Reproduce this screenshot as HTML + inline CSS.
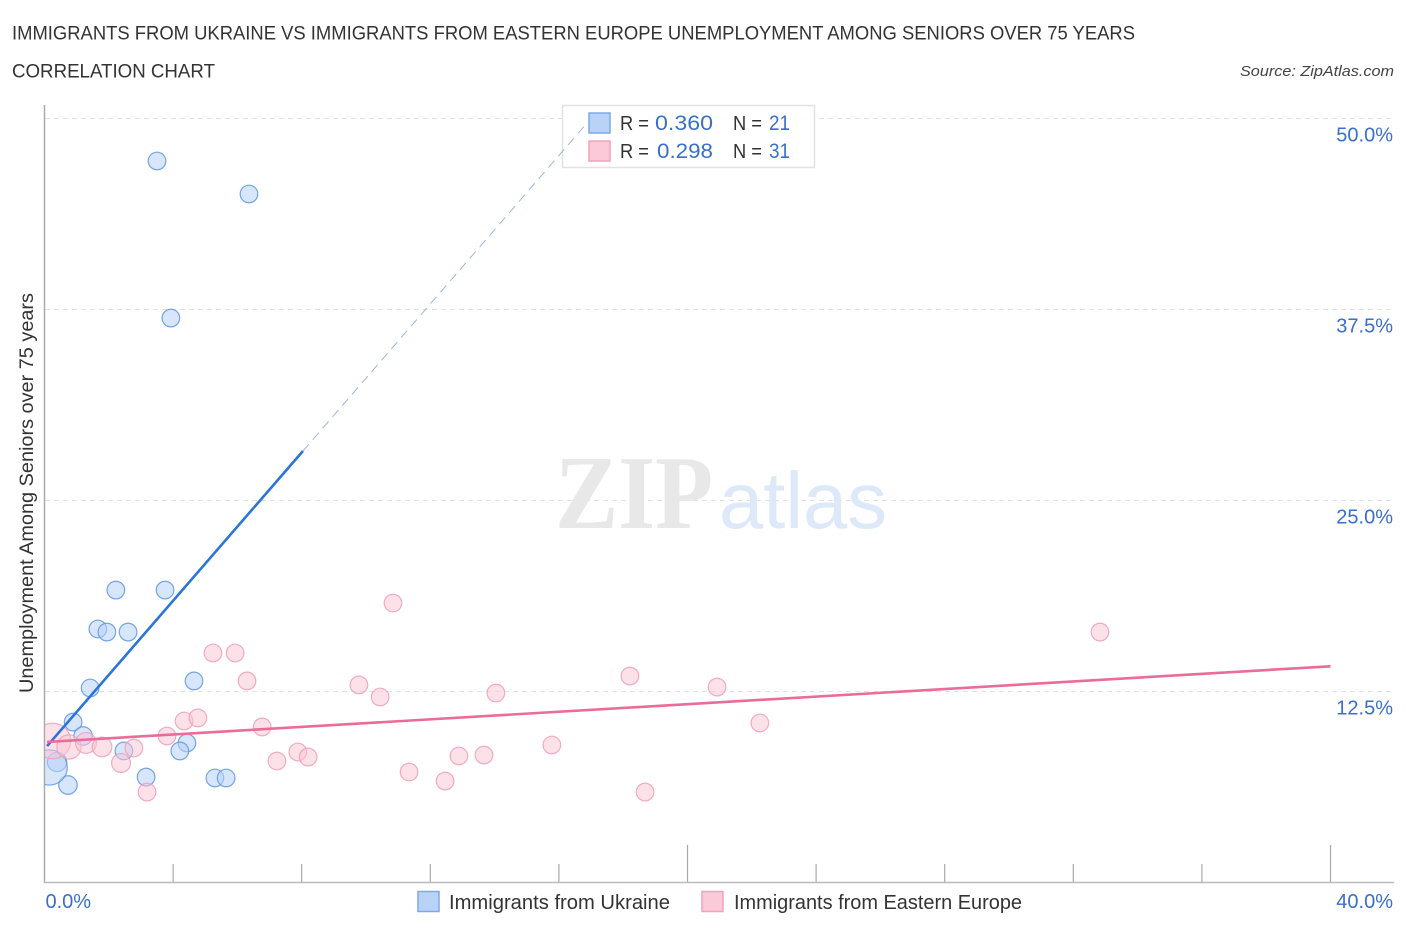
<!DOCTYPE html>
<html lang="en">
<head>
<meta charset="utf-8">
<title>Immigrants from Ukraine vs Immigrants from Eastern Europe Unemployment Among Seniors over 75 Years Correlation Chart</title>
<style>
html,body{margin:0;padding:0;background:#fff;}
body{width:1406px;height:930px;overflow:hidden;}
svg{display:block;font-family:"Liberation Sans",sans-serif;}
</style>
</head>
<body>
<svg id="chart" width="1406" height="930" viewBox="0 0 1406 930" xmlns="http://www.w3.org/2000/svg">
  <defs>
    <clipPath id="plot-clip"><rect x="45" y="100" width="1350" height="782"></rect></clipPath>
  </defs>
  <text x="12" y="39.5" font-size="19.5" fill="#333" textLength="1123" lengthAdjust="spacingAndGlyphs">IMMIGRANTS FROM UKRAINE VS IMMIGRANTS FROM EASTERN EUROPE UNEMPLOYMENT AMONG SENIORS OVER 75 YEARS</text>
  <text x="12" y="77.5" font-size="19.5" fill="#333" textLength="203" lengthAdjust="spacingAndGlyphs">CORRELATION CHART</text>
  <text x="1394" y="76" font-size="15" font-style="italic" fill="#444" text-anchor="end" textLength="154" lengthAdjust="spacingAndGlyphs">Source: ZipAtlas.com</text>

  <g id="grid"></g>

  <g>
    <text x="555" y="528" font-family="'Liberation Serif',serif" font-size="105" font-weight="bold" fill="#e8e8e8" textLength="158" lengthAdjust="spacingAndGlyphs">ZIP</text>
    <text x="719" y="528" font-size="80" fill="#dde9f8" textLength="168" lengthAdjust="spacingAndGlyphs">atlas</text>
  </g>

  <g id="axes"></g>
  <g id="points-ukraine" clip-path="url(#plot-clip)"></g>
  <g id="points-europe" clip-path="url(#plot-clip)"></g>

  <g>
    <rect x="562.5" y="105.5" width="252" height="62" fill="#fff" fill-opacity="0.88" stroke="#e2e2e2" stroke-width="1.5"></rect>
    <rect x="589" y="113" width="21" height="20" fill="#b9d3f8" stroke="#7ea9e6" stroke-width="1.5"></rect>
    <rect x="589" y="141" width="21" height="20" fill="#fcc9d9" stroke="#f0a3bc" stroke-width="1.5"></rect>
    <text x="620" y="130" font-size="20" fill="#333" textLength="29" lengthAdjust="spacingAndGlyphs">R =</text>
    <text x="655" y="130" font-size="21" fill="#3a6fcb" textLength="58" lengthAdjust="spacingAndGlyphs">0.360</text>
    <text x="733" y="130" font-size="20" fill="#333" textLength="29" lengthAdjust="spacingAndGlyphs">N =</text>
    <text x="769" y="130" font-size="21" fill="#3a6fcb" textLength="21" lengthAdjust="spacingAndGlyphs">21</text>
    <text x="620" y="158" font-size="20" fill="#333" textLength="29" lengthAdjust="spacingAndGlyphs">R =</text>
    <text x="657" y="158" font-size="21" fill="#3a6fcb" textLength="56" lengthAdjust="spacingAndGlyphs">0.298</text>
    <text x="733" y="158" font-size="20" fill="#333" textLength="29" lengthAdjust="spacingAndGlyphs">N =</text>
    <text x="769" y="158" font-size="21" fill="#3a6fcb" textLength="21" lengthAdjust="spacingAndGlyphs">31</text>
  </g>

  <g id="trends"></g>

  <text transform="translate(33,693) rotate(-90)" font-size="19" fill="#333" textLength="400" lengthAdjust="spacingAndGlyphs">Unemployment Among Seniors over 75 years</text>

  <g>
    <rect x="418" y="891.5" width="21" height="20" fill="#b9d3f8" stroke="#7ea9e6" stroke-width="1.5"></rect>
    <text x="449" y="909" font-size="20" fill="#333" textLength="221" lengthAdjust="spacingAndGlyphs">Immigrants from Ukraine</text>
    <rect x="702" y="891.5" width="21" height="20" fill="#fcc9d9" stroke="#f0a3bc" stroke-width="1.5"></rect>
    <text x="734" y="909" font-size="20" fill="#333" textLength="288" lengthAdjust="spacingAndGlyphs">Immigrants from Eastern Europe</text>
  </g>
</svg>

<script>
// ---- chart data ----
const ukraineX = [3.50, 6.36, 3.93, 2.22, 3.75, 1.66, 1.94, 2.60, 1.42, 4.65, 0.89, 1.20, 2.47, 4.43, 4.21, 3.16, 5.30, 5.65, 0.39, 0.73, 0.16];
const ukraineY = [47.22, 45.06, 36.94, 19.14, 19.14, 16.59, 16.39, 16.39, 12.73, 13.19, 10.50, 9.59, 8.61, 9.13, 8.61, 6.90, 6.84, 6.84, 7.89, 6.38, 7.53];
const ukraineWeight = [1, 1, 1, 1, 1, 1, 1, 1, 1, 1, 1, 1.1, 1, 1, 1, 1, 1, 1, 1.2, 1.1, 4];
const europeX = [0.26, 0.76, 1.29, 1.79, 2.38, 2.78, 3.19, 3.81, 4.34, 4.77, 5.24, 5.93, 6.30, 6.77, 7.23, 7.88, 8.20, 9.78, 10.44, 10.84, 11.34, 12.46, 12.89, 13.67, 14.04, 15.78, 18.21, 18.68, 20.92, 22.25, 32.83];
const europeY = [9.26, 8.87, 9.13, 8.87, 7.82, 8.80, 5.92, 9.59, 10.57, 10.77, 15.02, 15.02, 13.19, 10.18, 7.95, 8.54, 8.21, 12.93, 12.14, 18.29, 7.23, 6.64, 8.28, 8.34, 12.40, 9.00, 13.51, 5.92, 12.79, 10.44, 16.39];
const europeWeight = [4.1, 1.9, 1.4, 1.25, 1.15, 1, 1, 1, 1, 1, 1, 1, 1, 1, 1, 1, 1, 1, 1, 1, 1, 1, 1, 1, 1, 1, 1, 1, 1, 1, 1];
const ukraineTrendSolidX = [0.08, 8.04];
const ukraineTrendSolidY = [8.93, 28.24];
const ukraineTrendDashX = [8.04, 16.81];
const ukraineTrendDashY = [28.24, 49.55];
const europeTrendX = [0.08, 40];
const europeTrendY = [9.2, 14.15];
const xTickValues = [0, 4, 8, 12, 16, 20, 24, 28, 32, 36, 40];
const xMajorTicks = [20, 40];
const xTickLabelValues = [0, 40];
const xTickLabels = ["0.0%", "40.0%"];
const yTickValues = [12.5, 25, 37.5, 50];
const yTickLabels = ["12.5%", "25.0%", "37.5%", "50.0%"];

// ---- scales ----
function xScale(v) { return 44.5 + v * 32.15; }
function yScale(v) { return 882.5 - v * 15.28; }
function rScale(w) { return 8.8 * Math.sqrt(w); }

const NS = "http://www.w3.org/2000/svg";
function make(tag, attrs, parent) {
  const el = document.createElementNS(NS, tag);
  for (const k in attrs) el.setAttribute(k, attrs[k]);
  parent.appendChild(el);
  return el;
}

// ---- gridlines and right-hand labels ----
const gridG = document.getElementById("grid");
yTickValues.forEach(function (v, i) {
  const line = make("line", {x1: 45, x2: 1394, y1: yScale(v), y2: yScale(v), stroke: "#e2e2e2", "stroke-width": 1, "stroke-dasharray": "5 4"}, gridG);
  
  
  const label = make("text", {x: 1393, y: yScale(v) + 23, "font-size": 20, fill: "#3a6fcb", "text-anchor": "end"}, gridG);
  label.textContent = yTickLabels[i];
  
  
});

// ---- axes ----
const axesG = document.getElementById("axes");
const yAxis = make("line", {x1: 44.5, x2: 44.5, y1: 105, y2: 883, stroke: "#aaa", "stroke-width": 1.5}, axesG);


const xAxis = make("line", {x1: 44, x2: 1394, y1: 882.5, y2: 882.5, stroke: "#bbb", "stroke-width": 1.5}, axesG);


xTickValues.forEach(function (v) {
  if (v === 0) return;
  const tall = xMajorTicks.indexOf(v) >= 0;
  const tick = make("line", {x1: xScale(v), x2: xScale(v), y1: tall ? 845 : 864, y2: 882, stroke: "#aaa", "stroke-width": 1.2}, axesG);
  
  
});
xTickLabelValues.forEach(function (v, i) {
  const isFirst = i === 0;
  const label = make("text", {x: isFirst ? xScale(v) + 1 : 1393, y: 908, "font-size": 20, fill: "#3a6fcb", "text-anchor": isFirst ? "start" : "end"}, axesG);
  label.textContent = xTickLabels[i];
  
  
});

// ---- points ----
const ukraineG = document.getElementById("points-ukraine");
ukraineX.forEach(function (v, i) {
  const c = make("circle", {cx: xScale(v), cy: yScale(ukraineY[i]), r: rScale(ukraineWeight[i]), fill: "#b7d2f7", "fill-opacity": 0.55, stroke: "#5f96e2", "stroke-opacity": 0.85, "stroke-width": 1.2}, ukraineG);
  
  
});
const europeG = document.getElementById("points-europe");
europeX.forEach(function (v, i) {
  const c = make("circle", {cx: xScale(v), cy: yScale(europeY[i]), r: rScale(europeWeight[i]), fill: "#f9c3d4", "fill-opacity": 0.5, stroke: "#ee9fb9", "stroke-opacity": 0.85, "stroke-width": 1.2}, europeG);
  
  
});

// ---- trend lines ----
const trendG = document.getElementById("trends");
const blueSolid = make("line", {x1: xScale(ukraineTrendSolidX[0]), y1: yScale(ukraineTrendSolidY[0]), x2: xScale(ukraineTrendSolidX[1]), y2: yScale(ukraineTrendSolidY[1]), stroke: "#2a75d8", "stroke-width": 2.6}, trendG);


const blueDash = make("line", {x1: xScale(ukraineTrendDashX[0]), y1: yScale(ukraineTrendDashY[0]), x2: xScale(ukraineTrendDashX[1]), y2: yScale(ukraineTrendDashY[1]), stroke: "#9db6dc", "stroke-width": 1, "stroke-dasharray": "9 6"}, trendG);


const pinkLine = make("line", {x1: xScale(europeTrendX[0]), y1: yScale(europeTrendY[0]), x2: xScale(europeTrendX[1]), y2: yScale(europeTrendY[1]), stroke: "#e96c9a", "stroke-width": 2.6}, trendG);


</script>
</body>
</html>
